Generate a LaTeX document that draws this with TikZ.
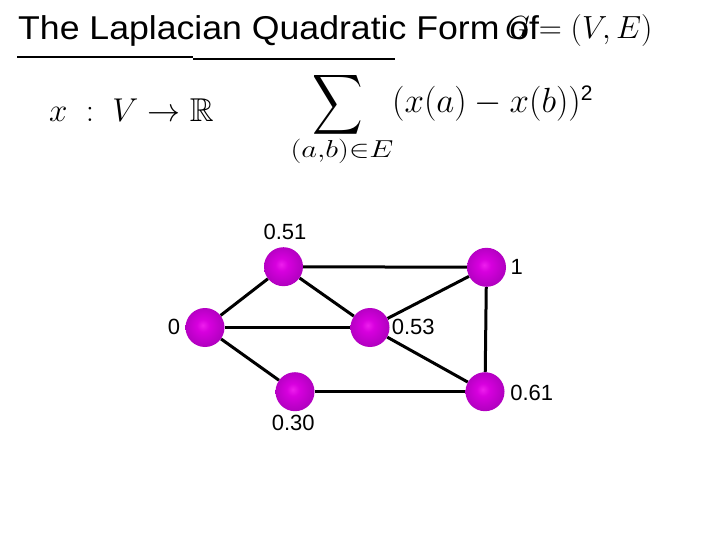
\RequirePackage{fix-cm}
\documentclass[tikz,border=0pt]{standalone}
\usepackage{fontspec}
\usepackage{amssymb}
\usepackage{graphicx}
\usetikzlibrary{backgrounds}
\newfontfamily\arialf{Liberation Sans}
\definecolor{ballhi}{RGB}{238,30,238}
\definecolor{ballin}{RGB}{215,0,222}
\definecolor{ballmid}{RGB}{160,0,178}
\definecolor{ballout}{RGB}{98,0,112}
\pgfdeclareradialshading{purpleball}{\pgfpoint{-3bp}{3bp}}{color(0bp)=(ballhi); color(8bp)=(ballin); color(34bp)=(ballmid); color(50bp)=(ballout)}
\begin{document}
\begin{tikzpicture}[x=1pt,y=-1pt,
  ball/.style={circle,minimum size=39pt,inner sep=0pt,shading=purpleball},
  edge/.style={line width=3pt,black},
  lbl/.style={inner sep=0pt,font=\arialf\fontsize{22}{26}\selectfont},
  uline/.style={line width=2pt,black}]
\useasboundingbox (0,0) rectangle (720,540);
% title
\node[anchor=base west,inner sep=0pt] (title) at (18,40)
  {\scalebox{1.08}[1]{\arialf\fontsize{33}{38}\selectfont The Laplacian Quadratic Form of}};
\node[anchor=base west,inner sep=0pt] (gve) at (505,39)
  {\fontsize{32}{38}\selectfont $G = (V, E)$};
\coordinate (u1) at (17,57.5);
\coordinate (u2) at (193,57.5);
\coordinate (u3) at (193,59.3);
\coordinate (u4) at (395,59.3);
\draw[uline] (u1) -- (u2);
\draw[uline] (u3) -- (u4);
% formulas
\node[anchor=base west,inner sep=0pt] (map) at (49,121.7)
  {\fontsize{33}{38}\selectfont $x \;:\; V \to \mathbb{R}$};
\node[inner sep=0pt] (sig) at (337.5,105)
  {\fontsize{35}{40}\selectfont \scalebox{1}[1.2]{$\displaystyle\sum$}};
\node[anchor=base,inner sep=0pt] (sub) at (342,158)
  {\fontsize{35}{40}\selectfont \scalebox{1.25}[1]{$\scriptstyle (a,b)\in E$}};
\node[anchor=base west,inner sep=0pt] (expr) at (392,113)
  {\fontsize{35}{40}\selectfont $(x(a) - x(b))^{\hbox{\arialf\fontsize{21}{24}\selectfont 2}}$};
% graph
\node[ball] (n0) at (205,327.5) {};
\node[ball] (n51) at (283.5,266.7) {};
\node[ball] (n1) at (486.5,267.3) {};
\node[ball] (n53) at (370,327.5) {};
\node[ball] (n30) at (295,391.7) {};
\node[ball] (n61) at (485,391.7) {};
\begin{scope}[on background layer]
\fill[white] (0,0) rectangle (720,540);
\draw[edge] (n0) -- (n51);
\draw[edge] (n0) -- (n53);
\draw[edge] (n0) -- (n30);
\draw[edge] (n51) -- (n1);
\draw[edge] (n51) -- (n53);
\draw[edge] (n1) -- (n53);
\draw[edge] (n1) -- (n61);
\draw[edge] (n53) -- (n61);
\draw[edge] (n30) -- (n61);
\end{scope}
\node[lbl] (l51) at (285,231.7) {0.51};
\node[lbl] (l1) at (516.7,267) {1};
\node[lbl] (l0) at (174,327) {0};
\node[lbl] (l53) at (413.3,327) {0.53};
\node[lbl] (l61) at (531.7,392.7) {0.61};
\node[lbl] (l30) at (293.3,423.3) {0.30};
\end{tikzpicture}
\end{document}
